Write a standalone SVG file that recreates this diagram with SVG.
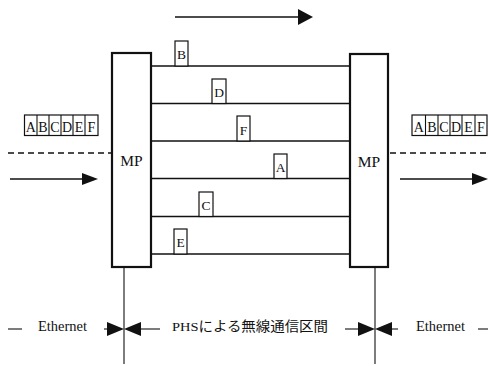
<svg xmlns="http://www.w3.org/2000/svg" width="488" height="366" viewBox="0 0 488 366">
<style>
text{font-family:"Liberation Serif","Noto Sans CJK JP",serif;fill:#111}
.mp{fill:#fff;stroke:#111;stroke-width:2.2}
.ln{stroke:#111;stroke-width:1.6;fill:none}
.thin{stroke:#111;stroke-width:1.1;fill:none}
.pk{fill:#fff;stroke:#111;stroke-width:1.2}
.pt{font-size:13.5px;text-anchor:middle}
.st{font-size:14px;text-anchor:middle}
.dash{stroke:#111;stroke-width:1.4;stroke-dasharray:6 4;fill:none}
.tri{fill:#111;stroke:none}
</style>
<rect width="488" height="366" fill="#fff"/>
<g id="connectors">
  <line class="ln" x1="151" y1="66" x2="350" y2="66"/>
  <line class="ln" x1="151" y1="103.5" x2="350" y2="103.5"/>
  <line class="ln" x1="151" y1="141" x2="350" y2="141"/>
  <line class="ln" x1="151" y1="178.5" x2="350" y2="178.5"/>
  <line class="ln" x1="151" y1="216.5" x2="350" y2="216.5"/>
  <line class="ln" x1="151" y1="254" x2="350" y2="254"/>
  <line class="ln" x1="175" y1="17" x2="300" y2="17"/>
  <polygon class="tri" points="298,9 313,17 298,25"/>
  <line class="dash" x1="8" y1="153" x2="112" y2="153"/>
  <line class="dash" x1="390" y1="153" x2="488" y2="153"/>
  <line class="ln" x1="10" y1="179" x2="85" y2="179"/>
  <polygon class="tri" points="82,173 98,179 82,185"/>
  <line class="ln" x1="400" y1="179" x2="475" y2="179"/>
  <polygon class="tri" points="472,173 488,179 472,185"/>
  <line class="thin" x1="124" y1="267" x2="124" y2="364"/>
  <line class="thin" x1="375" y1="267" x2="375" y2="364"/>
  <line class="thin" x1="8" y1="329" x2="22" y2="329"/>
  <line class="thin" x1="104" y1="329" x2="110" y2="329"/>
  <polygon class="tri" points="107,322 124,329 107,336"/>
  <polygon class="tri" points="141,322 124,329 141,336"/>
  <line class="thin" x1="138" y1="329" x2="160" y2="329"/>
  <line class="thin" x1="345" y1="329" x2="360" y2="329"/>
  <polygon class="tri" points="358,322 375,329 358,336"/>
  <polygon class="tri" points="392,322 375,329 392,336"/>
  <line class="thin" x1="390" y1="329" x2="398" y2="329"/>
  <line class="thin" x1="478" y1="329" x2="488" y2="329"/>
</g>
<g id="mp-left">
  <rect class="mp" x="112" y="53" width="39" height="214"/>
  <text x="131.5" y="165.5" font-size="15.5" text-anchor="middle">MP</text>
</g>
<g id="mp-right">
  <rect class="mp" x="350" y="54" width="38" height="213"/>
  <text x="369" y="166.5" font-size="15.5" text-anchor="middle">MP</text>
</g>
<g id="packet-B"><rect class="pk" x="175" y="41" width="13" height="25"/><text class="pt" x="181.5" y="58.5">B</text></g>
<g id="packet-D"><rect class="pk" x="212" y="79" width="14" height="24.5"/><text class="pt" x="219" y="96.5">D</text></g>
<g id="packet-F"><rect class="pk" x="237" y="116" width="13" height="25"/><text class="pt" x="243.5" y="134.5">F</text></g>
<g id="packet-A"><rect class="pk" x="274" y="154" width="13" height="24.5"/><text class="pt" x="280.5" y="171.5">A</text></g>
<g id="packet-C"><rect class="pk" x="199" y="192" width="14" height="24.5"/><text class="pt" x="206" y="209.5">C</text></g>
<g id="packet-E"><rect class="pk" x="174" y="229" width="13" height="25"/><text class="pt" x="180.5" y="246.5">E</text></g>
<g id="strip-left">
  <rect class="pk" x="24.5" y="115" width="73.5" height="20.5"/>
  <line class="thin" x1="37" y1="115" x2="37" y2="135.5"/>
  <line class="thin" x1="49" y1="115" x2="49" y2="135.5"/>
  <line class="thin" x1="61" y1="115" x2="61" y2="135.5"/>
  <line class="thin" x1="73" y1="115" x2="73" y2="135.5"/>
  <line class="thin" x1="85" y1="115" x2="85" y2="135.5"/>
  <text class="st" x="30.8" y="132">A</text>
  <text class="st" x="43" y="132">B</text>
  <text class="st" x="55" y="132">C</text>
  <text class="st" x="67" y="132">D</text>
  <text class="st" x="79" y="132">E</text>
  <text class="st" x="91.5" y="132">F</text>
</g>
<g id="strip-right">
  <rect class="pk" x="412" y="115" width="75" height="20.5"/>
  <line class="thin" x1="425.5" y1="115" x2="425.5" y2="135.5"/>
  <line class="thin" x1="438" y1="115" x2="438" y2="135.5"/>
  <line class="thin" x1="450" y1="115" x2="450" y2="135.5"/>
  <line class="thin" x1="462" y1="115" x2="462" y2="135.5"/>
  <line class="thin" x1="475" y1="115" x2="475" y2="135.5"/>
  <text class="st" x="418.8" y="132">A</text>
  <text class="st" x="431.8" y="132">B</text>
  <text class="st" x="444" y="132">C</text>
  <text class="st" x="456" y="132">D</text>
  <text class="st" x="468.5" y="132">E</text>
  <text class="st" x="481" y="132">F</text>
</g>
<g id="labels">
  <text x="38" y="331" font-size="14.5" textLength="49" lengthAdjust="spacingAndGlyphs">Ethernet</text>
  <text x="172" y="331" font-size="13.5" textLength="156" lengthAdjust="spacingAndGlyphs">PHSによる無線通信区間</text>
  <text x="416" y="331" font-size="14.5" textLength="49" lengthAdjust="spacingAndGlyphs">Ethernet</text>
</g>
</svg>
